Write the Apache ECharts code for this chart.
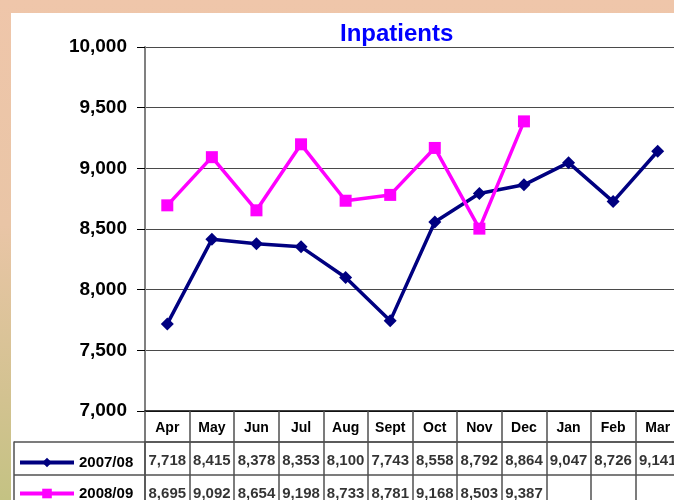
<!DOCTYPE html>
<html>
<head>
<meta charset="utf-8">
<script src="https://cdn.jsdelivr.net/npm/echarts@6/dist/echarts.min.js"></script>
<style>
  html, body { margin: 0; padding: 0; }
  body {
    width: 674px; height: 500px; overflow: hidden; position: relative;
    background: linear-gradient(to bottom, #efc6aa 0%, #e9c5a6 45%, #d2c290 80%, #c4c283 100%);
  }
  #panel { position: absolute; left: 11px; top: 13px; right: 0; bottom: 0; background: #fff; }
  #chart { position: absolute; left: 0; top: 0; width: 674px; height: 500px; }
</style>
</head>
<body>
<div id="panel"></div>
<div id="chart"></div>
<script>
const months = ['Apr', 'May', 'Jun', 'Jul', 'Aug', 'Sept', 'Oct', 'Nov', 'Dec', 'Jan', 'Feb', 'Mar'];
const rows = ['2007/08', '2008/09'];
const y0708 = [7718, 8415, 8378, 8353, 8100, 7743, 8558, 8792, 8864, 9047, 8726, 9141];
const y0809 = [8695, 9092, 8654, 9198, 8733, 8781, 9168, 8503, 9387];

const font = 'Arial, "Liberation Sans", sans-serif';
const fmt = v => v.toLocaleString('en-US');

// cells of the data table under the chart
const cells = (vals, row) => vals.map((v, i) => [i, row, v]);

const gridLine = {color: '#505050', width: 1.5};

// one legend per table row, so each key sits in its own row
const legendRow = (name, top) => ({
    data: [name],
    left: 18,
    top: top,
    padding: 0,
    itemWidth: 54,
    itemHeight: 12,
    selectedMode: false,
    lineStyle: {width: 4},
    textStyle: {color: '#000', fontSize: 15, fontWeight: 'bold', fontFamily: font}
});

const chart = echarts.init(document.getElementById('chart'));

chart.setOption({
    backgroundColor: 'transparent',
    animation: false,
    title: {
        text: 'Inpatients',
        left: 335,
        top: 17,
        textStyle: {color: '#0000ff', fontSize: 24, fontWeight: 'bold', fontFamily: font}
    },
    legend: [legendRow(rows[0], 455), legendRow(rows[1], 486)],
    grid: [
        {left: 145, top: 47, width: 535, height: 364, outerBoundsMode: 'none'},
        {left: 145, top: 442, width: 535, height: 66, outerBoundsMode: 'none'},
        {left: 14, top: 442, width: 131, height: 66, outerBoundsMode: 'none'}
    ],
    xAxis: [
        {
            type: 'category',
            data: months,
            gridIndex: 0,
            axisLine: {lineStyle: {color: '#000', width: 1.5}},
            axisTick: {show: true, interval: 0, length: 31, lineStyle: gridLine},
            axisLabel: {margin: 10, color: '#000', fontSize: 14, fontWeight: 'bold', fontFamily: font}
        },
        {
            type: 'category',
            data: months,
            gridIndex: 1,
            position: 'top',
            axisLine: {lineStyle: gridLine},
            axisTick: {show: false},
            axisLabel: {show: false},
            splitLine: {show: true, interval: 0, lineStyle: gridLine}
        },
        {type: 'value', gridIndex: 2, show: false}
    ],
    yAxis: [
        {
            type: 'value',
            gridIndex: 0,
            min: 7000,
            max: 10000,
            interval: 500,
            axisLine: {show: true, lineStyle: {color: '#808080', width: 2}},
            axisTick: {show: true, length: 8, lineStyle: {color: '#000'}},
            axisLabel: {
                margin: 18, color: '#000', fontSize: 19, fontWeight: 'bold', fontFamily: font,
                formatter: v => fmt(v)
            },
            splitLine: {lineStyle: {color: '#4a4a4a', width: 1}}
        },
        {
            type: 'category',
            data: rows,
            inverse: true,
            gridIndex: 1,
            axisLine: {show: true, lineStyle: gridLine},
            axisTick: {show: false},
            axisLabel: {show: false},
            splitLine: {show: true, interval: 0, lineStyle: gridLine}
        },
        {
            type: 'category',
            data: rows,
            inverse: true,
            gridIndex: 2,
            axisLine: {show: true, lineStyle: gridLine},
            axisTick: {show: false},
            axisLabel: {show: false},
            splitLine: {show: true, interval: 0, lineStyle: gridLine}
        }
    ],
    series: [
        {
            name: '2007/08',
            type: 'line',
            data: y0708,
            symbol: 'diamond',
            symbolSize: 13,
            color: '#000080',
            lineStyle: {width: 3.5, color: '#000080'},
            itemStyle: {color: '#000080'}
        },
        {
            name: '2008/09',
            type: 'line',
            data: y0809,
            symbol: 'rect',
            symbolSize: 12,
            color: '#ff00ff',
            lineStyle: {width: 3.5, color: '#ff00ff'},
            itemStyle: {color: '#ff00ff'}
        },
        {
            name: 'table',
            type: 'scatter',
            xAxisIndex: 1,
            yAxisIndex: 1,
            silent: true,
            symbol: 'rect',
            symbolSize: 1,
            itemStyle: {color: 'rgba(0,0,0,0)'},
            label: {
                show: true,
                position: 'inside',
                offset: [0, 2],
                color: '#000',
                fontSize: 15,
                fontWeight: 'bold',
                fontFamily: font,
                formatter: p => fmt(p.value[2])
            },
            data: cells(y0708, 0).concat(cells(y0809, 1))
        }
    ]
});
</script>
</body>
</html>
